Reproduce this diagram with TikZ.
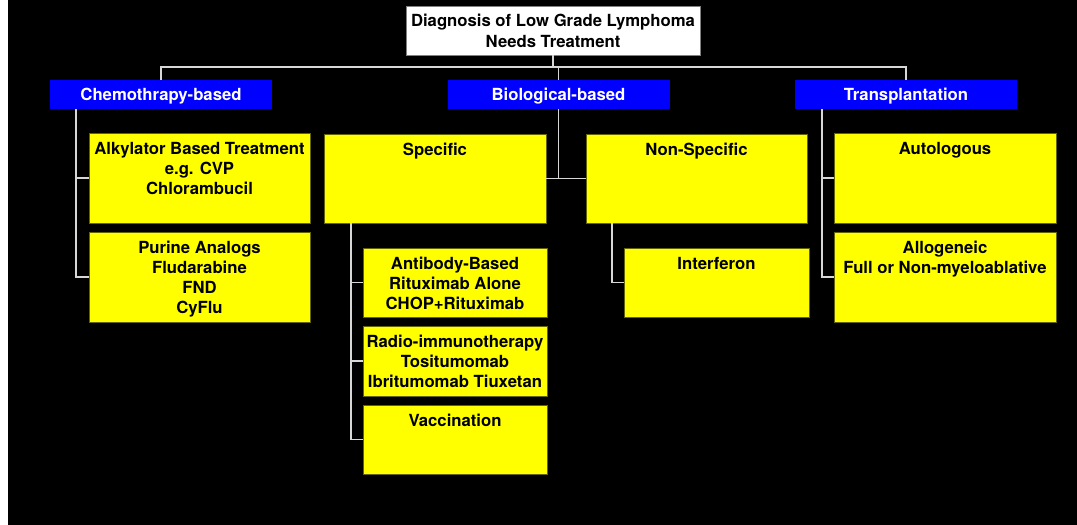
\documentclass[tikz,border=0pt]{standalone}
\usepackage{fontspec}
\setmainfont{TeX Gyre Heros}
\definecolor{ybord}{RGB}{100,100,0}
\definecolor{conncol}{RGB}{215,215,215}
\definecolor{yfill}{RGB}{255,255,0}
\definecolor{bfill}{RGB}{0,0,255}
\begin{document}
\begin{tikzpicture}[x=1pt,y=-1pt,
  every node/.style={font=\bfseries\fontsize{16.7}{20}\selectfont, outer sep=0pt},
  ybox/.style={draw=ybord, fill=yfill, line width=0.9pt, inner sep=0pt},
  bbox/.style={fill=bfill, text=white, inner sep=0pt, minimum width=222pt, minimum height=29pt, text depth=0pt},
  lbl/.style={anchor=north, inner sep=0pt, yshift=-9pt, align=center, text=black},
  conn/.style={draw=conncol, line width=1.3pt}
]
% background
\fill[white] (0,0) rectangle (1077,525);
\fill[black] (7.5,0) rectangle (1077,525);

% top
\node[draw=gray, fill=white, line width=1pt, minimum width=294pt, minimum height=49pt,
      align=center, inner sep=0pt, font=\bfseries\fontsize{16.7}{21}\selectfont]
      (top) at (553,30.5) {Diagnosis of Low Grade Lymphoma\\Needs Treatment};

% level 1
\node[bbox] (chemo) at (161,94.5) {Chemothrapy-based};
\node[bbox] (bio) at (558.5,94.5) {Biological-based};
\node[bbox] (trans) at (906,94.5) {Transplantation};

% chemo children
\node[ybox, minimum width=221pt, minimum height=90pt,
      label={[lbl, name=alkl]north:Alkylator Based Treatment\\e.g. CVP\\Chlorambucil}]
      (alk) at (199.5,178) {};
\node[ybox, minimum width=221pt, minimum height=90pt,
      label={[lbl, name=purl]north:Purine Analogs\\Fludarabine\\FND\\CyFlu}]
      (pur) at (199.5,277) {};

% bio children
\node[ybox, minimum width=222pt, minimum height=89pt,
      label={[lbl, name=specl]north:Specific}] (spec) at (435,178.5) {};
\node[ybox, minimum width=221pt, minimum height=89pt,
      label={[lbl, name=nonsl]north:Non-Specific}] (nons) at (696.5,178.5) {};

\node[ybox, minimum width=184pt, minimum height=69pt,
      label={[lbl, name=antil]north:Antibody-Based\\Rituximab Alone\\CHOP+Rituximab}]
      (anti) at (455,282.5) {};
\node[ybox, minimum width=184pt, minimum height=70pt,
      label={[lbl, name=radiol]north:Radio-immunotherapy\\Tositumomab\\Ibritumomab Tiuxetan}]
      (radio) at (455,361) {};
\node[ybox, minimum width=184pt, minimum height=69pt,
      label={[lbl, name=vaccl]north:Vaccination}] (vacc) at (455,439.5) {};
\node[ybox, minimum width=185pt, minimum height=69pt,
      label={[lbl, name=intl]north:Interferon}] (interf) at (716.5,282.5) {};

% transplant children
\node[ybox, minimum width=222pt, minimum height=90pt,
      label={[lbl, name=autol]north:Autologous}] (auto) at (945,178) {};
\node[ybox, minimum width=222pt, minimum height=90pt,
      label={[lbl, name=allol]north:Allogeneic\\Full or Non-myeloablative}]
      (allo) at (945,277) {};

% connectors
\coordinate (bus) at (553,67);
\draw[conn] (top.south) -- (bus);
\draw[conn] (chemo.north) -- (chemo.north |- bus) -- (trans.north |- bus) -- (trans.north);
\draw[conn] (bio.north) -- (bio.north |- bus);

\coordinate (cv) at (76,109);
\draw[conn] (cv) |- (alk.west);
\draw[conn] (cv) |- (pur.west);

\draw[conn] (bio.south) -- (bio.south |- spec.east);
\draw[conn] (spec.east) -- (nons.west);

\coordinate (sv) at (351,223);
\draw[conn] (sv) |- (anti.west);
\draw[conn] (sv) |- (radio.west);
\draw[conn] (sv) |- (vacc.west);

\coordinate (nv) at (612,223);
\draw[conn] (nv) |- (interf.west);

\coordinate (tv) at (822,109);
\draw[conn] (tv) |- (auto.west);
\draw[conn] (tv) |- (allo.west);
\end{tikzpicture}
\end{document}
